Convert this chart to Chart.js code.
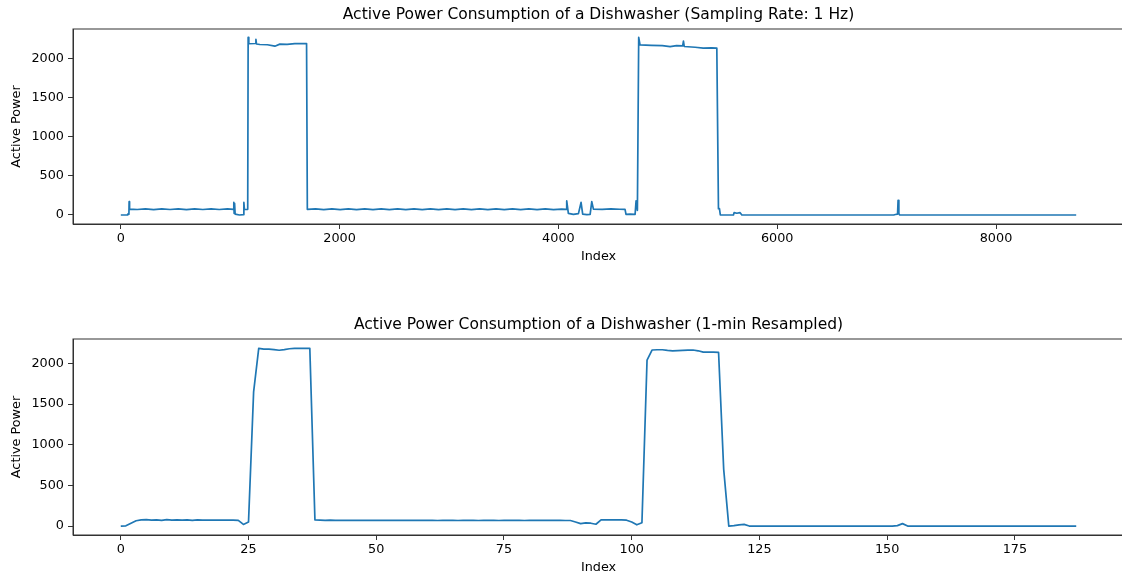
<!DOCTYPE html>
<html>
<head>
<meta charset="utf-8">
<script src="https://cdn.jsdelivr.net/npm/chart.js@4/dist/chart.umd.min.js"></script>
<style>
  html, body { margin: 0; padding: 0; background: #fff; overflow: hidden; width: 1122px; height: 579px; }
  canvas { position: absolute; left: 0; }
  #hzChart { top: 0; }
  #minChart { top: 310px; }
</style>
</head>
<body>
<canvas id="hzChart" width="1130" height="264"></canvas>
<canvas id="minChart" width="1130" height="265"></canvas>
<script>
// 1 Hz signal (index, watts)
var hzIndex = [
  0, 60, 63, 74, 76, 80, 150, 225, 300, 375, 450, 525, 600, 675, 750, 825, 900, 975,
  1030, 1033, 1036, 1040, 1045, 1085, 1120, 1125, 1130, 1160,
  1164, 1170, 1230, 1235, 1240, 1271, 1340, 1408, 1454, 1520, 1591, 1650, 1698,
  1705, 1780, 1855, 1930, 2005, 2080, 2155, 2230, 2305, 2380, 2455, 2530, 2605,
  2680, 2755, 2830, 2905, 2980, 3055, 3130, 3205, 3280, 3355, 3430, 3505, 3580,
  3655, 3730, 3805, 3880, 3955, 4030, 4070,
  4076, 4091, 4137, 4183, 4207, 4222, 4260, 4290, 4305, 4320, 4400, 4480, 4560,
  4609, 4618, 4655, 4701, 4710, 4722,
  4734, 4746, 4850, 4950, 5021, 5080, 5136, 5143, 5150, 5250, 5324, 5400, 5448,
  5463, 5472, 5480, 5600, 5606, 5631, 5661, 5677,
  7065, 7080, 7100, 7105, 7112, 7120, 8733
];
var hzPower = [
  0, 0, 10, 10, 170, 75, 70, 78, 69, 77, 70, 78, 69, 77, 70, 78, 70, 77,
  72, 160, 20, 150, 12, 0, 5, 160, 70, 72,
  2265, 2185, 2188, 2240, 2182, 2175, 2172, 2154, 2180, 2178, 2186, 2186, 2188,
  72, 78, 68, 77, 69, 78, 68, 77, 69, 78, 68, 77, 69,
  78, 68, 77, 69, 78, 68, 77, 69, 78, 68, 77, 69, 78,
  68, 77, 69, 78, 68, 76, 72,
  180, 20, 8, 18, 160, 10, 5, 8, 170, 75, 72, 77, 73,
  72, 8, 12, 8, 180, 60,
  2265, 2170, 2165, 2160, 2148, 2162, 2158, 2218, 2150, 2140, 2130, 2132, 2128,
  80, 80, 0, 0, 30, 22, 30, 0,
  0, 6, 10, 188, 15, 0, 0
];
var hzTicks = [0, 2000, 4000, 6000, 8000];

// 1-min resampled signal, one value per minute (0..187)
var minPower = [
  0, 3, 35, 65, 75, 78, 72, 76, 70, 78, 72, 75, 73, 77, 71, 76, 72, 74, 73, 74,
  73, 74, 73, 70, 20, 50, 1650, 2185, 2175, 2175, 2170, 2162, 2170, 2180, 2185, 2185,
  2185, 2185, 75, 72, 70, 72, 70, 71, 70, 70, 69, 70, 70, 69, 70, 69, 70, 70, 69,
  70, 69, 70, 69, 70, 70, 69, 68, 70, 69, 70, 68, 69, 70, 69, 68, 69, 70, 69, 68,
  69, 69, 70, 69, 68, 69, 69, 70, 69, 69, 70, 70, 68, 68, 50, 30, 40, 35, 22, 75,
  75, 75, 75, 75, 72, 50, 15, 40, 2040, 2165, 2168, 2168, 2160, 2155, 2158, 2160,
  2162, 2165, 2155, 2138, 2140, 2138, 2135, 700, 0, 5, 15, 20, 0, 0, 0, 0, 0, 0,
  0, 0, 0, 0, 0, 0, 0, 0, 0, 0, 0, 0, 0, 0, 0, 0, 0, 0, 0, 0, 0, 0, 0, 5, 30, 0,
  0, 0, 0, 0, 0, 0, 0, 0, 0, 0, 0, 0, 0, 0, 0, 0, 0, 0, 0, 0, 0, 0, 0, 0, 0,
  0, 0, 0, 0, 0, 0, 0, 0
];
var minTicks = [0, 25, 50, 75, 100, 125, 150, 175];

var yTicks = [0, 500, 1000, 1500, 2000];

Chart.defaults.font.family = "DejaVu Sans";
Chart.defaults.font.size = 12.8;
Chart.defaults.color = "#000";

// matplotlib style box round the axes
var frame = {
  id: "frame",
  afterDraw: function (chart) {
    var a = chart.chartArea, c = chart.ctx;
    c.save();
    c.strokeStyle = "#333";
    c.lineWidth = 1;
    c.strokeRect(a.left, a.top, a.right - a.left, a.bottom - a.top);
    c.restore();
  },
};

function fixedTicks(list) {
  return function (s) {
    s.ticks = list.map(function (v) { return { value: v }; });
  };
}

function makeChart(id, title, points, xMin, xMax, xTicks, yMin, yMax) {
  return new Chart(document.getElementById(id), {
    type: "line",
    data: {
      datasets: [
        {
          data: points,
          borderColor: "#1f77b4",
          borderWidth: 1.7,
          borderJoinStyle: "round",
          pointRadius: 0,
          tension: 0,
        },
      ],
    },
    options: {
      responsive: false,
      animation: false,
      layout: { padding: { left: 0, right: 6, top: 0, bottom: 0 } },
      plugins: {
        legend: { display: false },
        tooltip: { enabled: false },
        title: {
          display: true,
          text: title,
          fullSize: false,
          font: { size: 15.5, weight: "normal" },
          padding: { top: 5.2, bottom: 5.2 },
        },
      },
      scales: {
        x: {
          type: "linear",
          min: xMin,
          max: xMax,
          afterFit: function (s) { s.height = 40; },
          afterBuildTicks: fixedTicks(xTicks),
          ticks: { padding: 2, maxRotation: 0, autoSkip: false, callback: function (v) { return String(v); } },
          grid: { drawOnChartArea: false, tickLength: 5, tickColor: "#333", tickWidth: 1 },
          border: { color: "#333", width: 1 },
          title: { display: true, text: "Index", padding: { top: 2, bottom: 0 } },
        },
        y: {
          min: yMin,
          max: yMax,
          afterFit: function (s) { s.width = 73; },
          afterBuildTicks: fixedTicks(yTicks),
          ticks: { padding: 4, callback: function (v) { return String(v); } },
          grid: { drawOnChartArea: false, tickLength: 5, tickColor: "#333", tickWidth: 1 },
          border: { color: "#333", width: 1 },
          title: { display: true, text: "Active Power", padding: { top: 8.5, bottom: 0 } },
        },
      },
    },
    plugins: [frame],
  });
}

var hzPoints = hzIndex.map(function (x, i) { return { x: x, y: hzPower[i] }; });
var minPoints = minPower.map(function (v, i) { return { x: i, y: v }; });

makeChart("hzChart", "Active Power Consumption of a Dishwasher (Sampling Rate: 1 Hz)",
  hzPoints, -437, 9170, hzTicks, -115, 2373);
makeChart("minChart", "Active Power Consumption of a Dishwasher (1-min Resampled)",
  minPoints, -9.35, 196.35, minTicks, -110, 2300);
</script>
</body>
</html>
